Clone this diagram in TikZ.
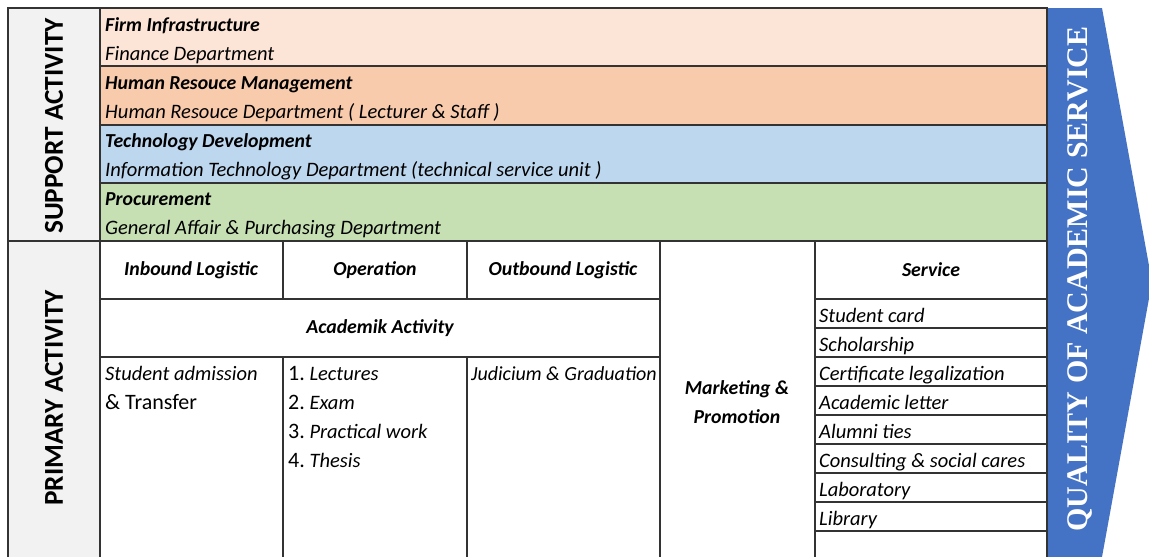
\documentclass[tikz,border=0pt]{standalone}
\usepackage{fontspec}
\usepackage{xcolor}
\setmainfont{Carlito}
\newfontfamily\arrowfont{Liberation Serif}
\definecolor{firmcol}{HTML}{FCE4D6}
\definecolor{hrcol}{HTML}{F8CBAD}
\definecolor{techcol}{HTML}{BDD7EE}
\definecolor{procol}{HTML}{C6E0B4}
\definecolor{sidecol}{HTML}{F2F2F2}
\definecolor{arrowcol}{HTML}{4472C4}

\begin{document}
\begin{tikzpicture}[x=1pt,y=-1pt,
	cellborder/.style={draw=black!80,line width=1.3pt},
	rowtitle/.style={anchor=base west,inner sep=0pt,font=\fontsize{19.8}{20}\selectfont\bfseries\itshape},
	rowtext/.style={anchor=base west,inner sep=0pt,font=\fontsize{20.5}{20}\selectfont\itshape},
	headtext/.style={inner sep=0pt,font=\fontsize{19.8}{20}\selectfont\bfseries\itshape},
	sidelabel/.style={rotate=90,inner sep=0pt,font=\fontsize{27.3}{27}\selectfont\bfseries},
	arrowtext/.style={rotate=90,inner sep=0pt,text=white,font=\fontsize{30}{30}\selectfont\arrowfont\bfseries}]
	\useasboundingbox (0,0) rectangle (1149,557);
	\fill[firmcol] (100,8) rectangle (1047,66); % bandes support
	\fill[hrcol] (100,66) rectangle (1047,125);
	\fill[techcol] (100,125) rectangle (1047,183);
	\fill[procol] (100,183) rectangle (1047,241);
	\fill[sidecol] (8,8) rectangle (100,557);
	\fill[arrowcol] (1047,8) -- (1102,8) -- (1152,282) -- (1102,557) -- (1047,557) -- cycle; % la fleche

	\draw[cellborder] (8,557) -- (8,8) -- (1047,8) -- (1047,557);
	\draw[cellborder] (100,8) -- (100,557);
	\draw[cellborder] (100,66) -- (1047,66);
	\draw[cellborder] (100,125) -- (1047,125);
	\draw[cellborder] (100,183) -- (1047,183);
	\draw[cellborder] (8,241) -- (1047,241);
	\draw[cellborder] (100,299) -- (660,299);
	\draw[cellborder] (100,357) -- (660,357);
	\draw[cellborder] (283,241) -- (283,299);
	\draw[cellborder] (467,241) -- (467,299);
	\draw[cellborder] (283,357) -- (283,557);
	\draw[cellborder] (467,357) -- (467,557);
	\draw[cellborder] (660,241) -- (660,557);
	\draw[cellborder] (815,241) -- (815,557);
	\draw[cellborder] (815,299) -- (1047,299); % lignes service
	\draw[cellborder] (815,328) -- (1047,328);
	\draw[cellborder] (815,357) -- (1047,357);
	\draw[cellborder] (815,386) -- (1047,386);
	\draw[cellborder] (815,415) -- (1047,415);
	\draw[cellborder] (815,444) -- (1047,444);
	\draw[cellborder] (815,473) -- (1047,473);
	\draw[cellborder] (815,502) -- (1047,502);
	\draw[cellborder] (815,531) -- (1047,531);

	\node[sidelabel] (support) at (54,126) {SUPPORT ACTIVITY};
	\node[sidelabel] (primary) at (54,398) {PRIMARY ACTIVITY};
	\node[arrowtext] (quality) at (1080,279) {QUALITY OF ACADEMIC SERVICE};

	\node[rowtitle] (firm) at (105,31) {Firm Infrastructure};
	\node[rowtext] (finance) at (105,60) {Finance Department};
	\node[rowtitle] (hrm) at (105,89) {Human Resouce Management};
	\node[rowtext] (hrdept) at (105,118) {Human Resouce Department ( Lecturer \& Staff )};
	\node[rowtitle] (techdev) at (105,147) {Technology Development};
	\node[rowtext] (itdept) at (105,176) {Information Technology Department (technical service unit )};
	\node[rowtitle] (procure) at (105,205) {Procurement};
	\node[rowtext] (gadept) at (105,234) {General Affair \& Purchasing Department};

	\node[headtext] (inbound) at (191,270) {Inbound Logistic};
	\node[headtext] (operation) at (375,270) {Operation};
	\node[headtext] (outbound) at (563,270) {Outbound Logistic};
	\node[headtext] (service) at (931,270) {Service};
	\node[headtext] (academik) at (380,328) {Academik Activity};
	\node[headtext,align=center,font=\fontsize{19.8}{29}\selectfont\bfseries\itshape] (marketing) at (737,402) {Marketing \&\\Promotion};

	\node[rowtext] (admission) at (105,380) {Student admission};
	\node[rowtext,font=\fontsize{22}{20}\selectfont] (transfer) at (105,409) {\& Transfer};
	\node[rowtext] (lectures) at (288,380) {{\fontsize{22}{20}\upshape1.}\ Lectures};
	\node[rowtext] (exam) at (288,409) {{\fontsize{22}{20}\upshape2.}\ Exam};
	\node[rowtext] (practical) at (288,438) {{\fontsize{22}{20}\upshape3.}\ Practical work};
	\node[rowtext] (thesis) at (288,467) {{\fontsize{22}{20}\upshape4.}\ Thesis};
	\node[rowtext,font=\fontsize{20}{20}\selectfont\itshape] (judicium) at (471,380) {Judicium \& Graduation};

	\node[rowtext] (card) at (819,322) {Student card};
	\node[rowtext] (scholar) at (819,351) {Scholarship};
	\node[rowtext] (legal) at (819,380) {Certificate legalization};
	\node[rowtext] (letter) at (819,409) {Academic letter};
	\node[rowtext] (alumni) at (819,438) {Alumni ties};
	\node[rowtext] (consult) at (819,467) {Consulting \& social cares};
	\node[rowtext] (lab) at (819,496) {Laboratory};
	\node[rowtext] (library) at (819,525) {Library};
\end{tikzpicture}
\end{document}
